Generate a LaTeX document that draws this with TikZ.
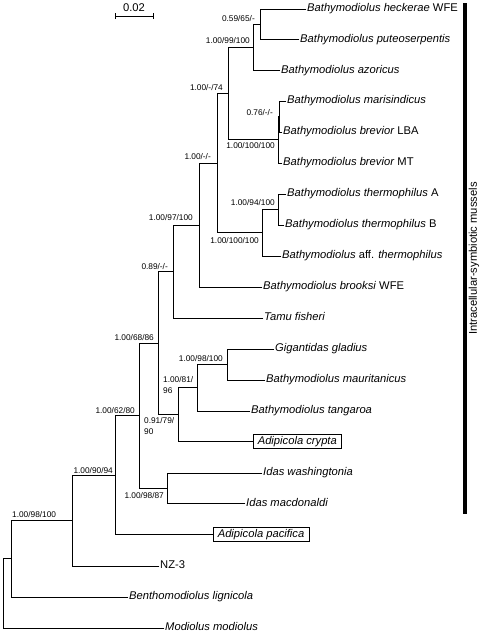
\documentclass[tikz,border=0pt]{standalone}
\usepackage{fontspec}
\setmainfont{Liberation Sans}
\begin{document}
\begin{tikzpicture}[x=1pt,y=-1pt,
  br/.style={line width=0.8pt, line cap=rect},
  leaf/.style={anchor=mid west, inner xsep=1pt, inner ysep=0pt, font=\fontsize{11.2}{13}\selectfont\itshape},
  boxleaf/.style={draw, line width=0.6pt, anchor=west, inner xsep=4.5pt, inner ysep=1.5pt, text height=8pt, text depth=2.5pt, font=\fontsize{11.2}{13}\selectfont\itshape},
  lab/.style={inner sep=0pt, font=\fontsize{8.3}{11}\selectfont},
  lab2/.style={lab, align=left, anchor=west},
]
\useasboundingbox (0,0) rectangle (483,635);

% leaves
\node[leaf] (heck) at (306,9) {Bathymodiolus heckerae \textup{WFE}};
\node[leaf] (pute) at (299,39.5) {Bathymodiolus puteoserpentis};
\node[leaf] (azor) at (280,70.5) {Bathymodiolus azoricus};
\node[leaf] (mari) at (286,101) {Bathymodiolus marisindicus};
\node[leaf] (blba) at (282,132) {Bathymodiolus brevior \textup{LBA}};
\node[leaf] (bmt)  at (282,163) {Bathymodiolus brevior \textup{MT}};
\node[leaf] (tha)  at (286,194) {Bathymodiolus thermophilus \textup{A}};
\node[leaf] (thb)  at (284,225) {Bathymodiolus thermophilus \textup{B}};
\node[leaf] (aff)  at (281,256) {Bathymodiolus \textup{aff.} thermophilus};
\node[leaf] (broo) at (262,287) {Bathymodiolus brooksi \textup{WFE}};
\node[leaf] (tamu) at (263,318) {Tamu fisheri};
\node[leaf] (giga) at (274,349) {Gigantidas gladius};
\node[leaf] (maur) at (265,380) {Bathymodiolus mauritanicus};
\node[leaf] (tang) at (250,411) {Bathymodiolus tangaroa};
\node[boxleaf] (cryp) at (253,441.5) {Adipicola crypta};
\node[leaf] (wash) at (262,473) {Idas washingtonia};
\node[leaf] (macd) at (245,503.5) {Idas macdonaldi};
\node[boxleaf] (paci) at (213,534.5) {Adipicola pacifica};
\node[leaf, font=\fontsize{11.2}{13}\selectfont] (nz3) at (159,566) {NZ-3};
\node[leaf] (bent) at (128,597) {Benthomodiolus lignicola};
\node[leaf] (modi) at (164,628) {Modiolus modiolus};

% internal nodes
\coordinate (A) at (260,24.25);
\coordinate (B) at (253,47.4);
\coordinate (C) at (279.5,116.5);
\coordinate (D) at (278,139.75);
\coordinate (E) at (228,93.6);
\coordinate (F) at (278,209.5);
\coordinate (G) at (262,232.75);
\coordinate (H) at (217,163.2);
\coordinate (I) at (199,225.1);
\coordinate (J) at (173,271.5);
\coordinate (K) at (227,364.5);
\coordinate (L) at (197,387.75);
\coordinate (M) at (178,414.6);
\coordinate (N) at (158,343.1);
\coordinate (O) at (167,488.25);
\coordinate (P) at (139,415.7);
\coordinate (Q) at (115,475.1);
\coordinate (R) at (72,520.5);
\coordinate (S) at (11,558.8);
\coordinate (T) at (3,593.4);

% branches
\draw[br] (T) |- (S);   \draw[br] (T) |- (modi.mid west);
\draw[br] (S) |- (R);   \draw[br] (S) |- (bent.mid west);
\draw[br] (R) |- (Q);   \draw[br] (R) |- (nz3.mid west);
\draw[br] (Q) |- (P);   \draw[br] (Q) |- (paci.west);
\draw[br] (P) |- (N);   \draw[br] (P) |- (O);
\draw[br] (O) |- (wash.mid west); \draw[br] (O) |- (macd.mid west);
\draw[br] (N) |- (J);   \draw[br] (N) |- (M);
\draw[br] (M) |- (L);   \draw[br] (M) |- (cryp.west);
\draw[br] (L) |- (K);   \draw[br] (L) |- (tang.mid west);
\draw[br] (K) |- (giga.mid west); \draw[br] (K) |- (maur.mid west);
\draw[br] (J) |- (I);   \draw[br] (J) |- (tamu.mid west);
\draw[br] (I) |- (H);   \draw[br] (I) |- (broo.mid west);
\draw[br] (H) |- (E);   \draw[br] (H) |- (G);
\draw[br] (G) |- (F);   \draw[br] (G) |- (aff.mid west);
\draw[br] (F) |- (tha.mid west); \draw[br] (F) |- (thb.mid west);
\draw[br] (E) |- (B);   \draw[br] (E) |- (D);
\draw[br] (D) |- (C);   \draw[br] (D) |- (bmt.mid west);
\draw[br] (C) |- (mari.mid west); \draw[br] (C) |- (blba.mid west);
\draw[br] (B) |- (A);   \draw[br] (B) |- (azor.mid west);
\draw[br] (A) |- (heck.mid west); \draw[br] (A) |- (pute.mid west);

% support labels
\node[lab, anchor=east] (lA) at (255,19) {0.59/65/-};
\node[lab, anchor=east] (lB) at (250,41) {1.00/99/100};
\node[lab, anchor=east] (lE) at (223,88) {1.00/-/74};
\node[lab, anchor=east] (lC) at (273,113) {0.76/-/-};
\node[lab, anchor=east] (lD) at (275,146) {1.00/100/100};
\node[lab, anchor=east] (lF) at (275,203) {1.00/94/100};
\node[lab, anchor=east] (lG) at (259,241) {1.00/100/100};
\node[lab, anchor=east] (lH) at (211,157) {1.00/-/-};
\node[lab, anchor=east] (lI) at (193,218) {1.00/97/100};
\node[lab, anchor=east] (lJ) at (168,267) {0.89/-/-};
\node[lab, anchor=east] (lN) at (154,338) {1.00/68/86};
\node[lab, anchor=east] (lK) at (223,359) {1.00/98/100};
\node[lab2] (lL) at (163,385.5) {1.00/81/\\96};
\node[lab2] (lM) at (144,426.5) {0.91/79/\\90};
\node[lab, anchor=east] (lP) at (135,411) {1.00/62/80};
\node[lab, anchor=east] (lO) at (164,496) {1.00/98/87};
\node[lab, anchor=east] (lQ) at (113,471) {1.00/90/94};
\node[lab, anchor=west] (lR) at (12,515) {1.00/98/100};

% scale bar
\coordinate (sb1) at (115,16);
\coordinate (sb2) at (153,16);
\draw[line width=0.8pt] (sb1) -- (sb2);
\draw[line width=0.8pt] ([yshift=-3pt]sb1) -- ([yshift=3pt]sb1);
\draw[line width=0.8pt] ([yshift=-3pt]sb2) -- ([yshift=3pt]sb2);
\node[inner sep=0pt, font=\fontsize{11.2}{13}\selectfont] (sbl) at (134,8) {0.02};

% clade bar
\fill (462.5,3) rectangle (467,514);
\node[inner sep=0pt, rotate=90, font=\fontsize{11.2}{13}\selectfont] (clade) at (474,258.5) {Intracellular-symbiotic mussels};
\end{tikzpicture}
\end{document}
